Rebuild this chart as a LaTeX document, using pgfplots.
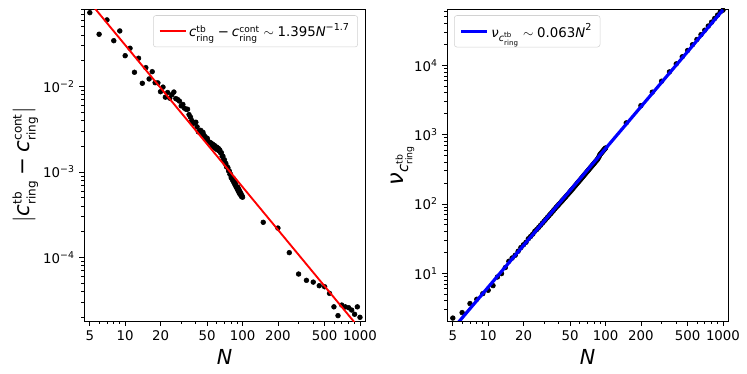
\documentclass[border=0pt]{standalone}
\usepackage{fontspec}
\setmainfont{DejaVu Sans}
\usepackage{amsmath}
\usepackage{pgfplots}
\pgfplotsset{compat=1.18}

\newcommand{\ci}{\text{\itshape c}}
\newcommand{\Ni}{\text{\itshape N}}
\newcommand{\scr}[2]{\text{\fontsize{#1}{#1}\selectfont #2}}

\begin{document}
\begin{tikzpicture}
\path[use as bounding box] (0,0) rectangle (560.25pt,280.5pt);

% left panel
\begin{axis}[
    xmode=log, ymode=log, scale only axis,
    width=210.75pt, height=234pt,
    at={(63pt,39.75pt)}, anchor=south west,
    xmin=4.46, xmax=1104,
    ymin=1.81e-5, ymax=0.0805,
    clip marker paths=true,
    axis line style={line width=0.6pt},
    tick align=outside, xtick pos=bottom, ytick pos=left,
    major tick length=3.5pt, minor tick length=2pt,
    tick style={black, line width=0.6pt},
    xtick={5,10,20,50,100,200,500,1000},
    xticklabels={5,10,20,50,100,200,500,1000},
    minor xtick={6,7,8,9,30,40,60,70,80,90,300,400,600,700,800,900},
    ytick={1e-4,1e-3,1e-2},
    yticklabels={10\textsuperscript{−4},10\textsuperscript{−3},10\textsuperscript{−2}},
    minor ytick={2e-5,3e-5,4e-5,5e-5,6e-5,7e-5,8e-5,9e-5,2e-4,3e-4,4e-4,5e-4,6e-4,7e-4,8e-4,9e-4,
      2e-3,3e-3,4e-3,5e-3,6e-3,7e-3,8e-3,9e-3,2e-2,3e-2,4e-2,5e-2,6e-2,7e-2,8e-2},
    ticklabel style={font=\fontsize{10}{12}\selectfont},
    label style={font=\fontsize{15.5}{18}\selectfont},
    xlabel={$\Ni$},
    ylabel={\fontsize{16}{18}\selectfont${|}\ci^{\scr{9}{tb}}_{\scr{9}{ring}} \mathbin{\text{−}} \ci^{\scr{9}{cont}}_{\scr{9}{ring}}{|}$},
    ylabel shift=-3pt,
    legend style={at={(0.975,0.98)}, anchor=north east,
      font=\fontsize{10}{12}\selectfont, draw=gray!35, rounded corners=2pt,
      fill=white, inner xsep=4pt, inner ysep=4pt},
    legend image code/.code={\draw[#1] (0pt,0pt) -- (19.5pt,0pt);},
    legend cell align=left,
]
\addplot[only marks, mark=*, mark size=1.8pt, black, mark options={fill=black}, forget plot] coordinates {
(5,0.0730) (6,0.0408) (7,0.0600) (8,0.0343) (9,0.0446) (10,0.0229)
(11,0.0280) (12,0.01466) (13,0.0214) (14,0.01090) (15,0.0166) (16,0.01225)
(17,0.0149) (18,0.01107) (19,0.01101) (20,0.00869) (21,0.00983) (22,0.00750)
(23,0.00850) (24,0.00730) (25,0.00802) (26,0.00861) (27,0.00722) (28,0.00704)
(29,0.00675) (30,0.00593) (31,0.00617) (32,0.00557) (33,0.00542) (34,0.00542)
(35,0.00469) (36,0.00438) (37,0.00399) (38,0.00372) (39,0.00375) (40,0.00382)
(41,0.00337) (42,0.00295) (43,0.00300) (44,0.00307) (45,0.00282) (46,0.00291)
(47,0.00268) (48,0.00258) (49,0.00239) (50,0.00248) (51,0.00229) (52,0.00222)
(53,0.00220) (54,0.00218) (55,0.00202) (56,0.00210) (57,0.00195) (58,0.00203)
(59,0.00188) (60,0.00196) (61,0.00182) (62,0.00190) (63,0.00177) (64,0.00181)
(65,0.00168) (66,0.00168) (67,0.00153) (68,0.00153) (69,0.00139) (70,0.00139)
(71,0.00126) (72,0.00126) (73,0.00115) (74,0.00115) (75,0.00112) (76,0.00103)
(77,0.00103) (78,0.000941) (79,0.000943) (80,0.000856) (81,0.000864) (82,0.000808)
(83,0.000849) (84,0.000759) (85,0.000779) (86,0.000713) (87,0.000733) (88,0.000671)
(89,0.000674) (90,0.000632) (91,0.000665) (92,0.000595) (93,0.000626) (94,0.000562)
(95,0.000591) (96,0.000542) (97,0.000558) (98,0.000516) (99,0.000527) (100,0.000507)
(150,2.58e-4) (200,2.21e-4) (250,1.14e-4) (300,6.41e-5) (350,5.41e-5) (400,5.16e-5)
(450,4.68e-5) (500,4.55e-5) (550,3.81e-5) (600,2.65e-5) (650,2.09e-5) (700,2.78e-5)
(750,2.65e-5) (800,2.59e-5) (850,2.43e-5) (900,2.17e-5) (950,2.65e-5) (1000,2.00e-5)
};
\addplot[red, line width=1.4pt] coordinates {(5,0.09642) (1000,1.461e-5)};
\addlegendentry{$\ci^{\scr{6.8}{tb}}_{\scr{6.8}{ring}} \mathbin{\text{−}} \ci^{\scr{6.8}{cont}}_{\scr{6.8}{ring}} \sim \text{1.395}\Ni^{\scr{7.2}{−1.7}}$}
\end{axis}

% right panel
\begin{axis}[
    xmode=log, ymode=log, scale only axis,
    width=210.75pt, height=234pt,
    at={(335.25pt,39.75pt)}, anchor=south west,
    xmin=4.46, xmax=1104,
    ymin=2.05, ymax=64900,
    clip marker paths=true,
    axis line style={line width=0.6pt},
    tick align=outside, xtick pos=bottom, ytick pos=left,
    major tick length=3.5pt, minor tick length=2pt,
    tick style={black, line width=0.6pt},
    xtick={5,10,20,50,100,200,500,1000},
    xticklabels={5,10,20,50,100,200,500,1000},
    minor xtick={6,7,8,9,30,40,60,70,80,90,300,400,600,700,800,900},
    ytick={10,100,1000,10000},
    yticklabels={10\textsuperscript{1},10\textsuperscript{2},10\textsuperscript{3},10\textsuperscript{4}},
    minor ytick={3,4,5,6,7,8,9,20,30,40,50,60,70,80,90,200,300,400,500,600,700,800,900,
      2000,3000,4000,5000,6000,7000,8000,9000,20000,30000,40000,50000,60000},
    ticklabel style={font=\fontsize{10}{12}\selectfont},
    label style={font=\fontsize{15.5}{18}\selectfont},
    xlabel={$\Ni$},
    ylabel={\fontsize{17}{18}\selectfont$\text{\itshape ν}_{\scr{11}{\itshape c}^{\scr{7}{tb}}_{\scr{7}{ring}}}$},
    ylabel shift=-7pt,
    legend style={at={(0.025,0.98)}, anchor=north west,
      font=\fontsize{10}{12}\selectfont, draw=gray!35, rounded corners=2pt,
      fill=white, inner xsep=4pt, inner ysep=4pt},
    legend image code/.code={\draw[#1] (0pt,0pt) -- (19.5pt,0pt);},
    legend cell align=left,
]
\addplot[only marks, mark=*, mark size=1.8pt, black, mark options={fill=black}, forget plot] coordinates {
(5,2.26) (6,2.71) (7,3.66) (8,4.22) (9,5.09) (10,5.69) (11,6.64) (12,8.85)
(13,9.9) (14,12.1) (15,14.9) (16,16.6) (17,18.2) (18,20.8) (19,23.5) (20,25.8)
(21,28.0) (22,31.5) (23,34.0) (24,36.8) (25,40.5) (26,43.0) (27,46.2) (28,49.5)
(29,53.0) (30,56.5) (31,60.3) (32,64.0) (33,68.0) (34,72.0) (35,76.0) (36,80.5)
(37,85.0) (38,89.5) (39,94.0) (40,98.5) (41,103) (42,108) (43,113) (44,118)
(45,123) (46,128) (47,134) (48,139) (49,145) (50,151) (51,157) (52,163)
(53,169) (54,176) (55,182) (56,189) (57,196) (58,203) (59,210) (60,217)
(61,224) (62,232) (63,239) (64,247) (65,255) (66,263) (67,271) (68,279)
(69,287) (70,296) (71,304) (72,313) (73,322) (74,331) (75,340) (76,349)
(77,358) (78,368) (79,377) (80,387) (81,397) (82,407) (83,417) (84,427)
(85,437) (86,450) (87,465) (88,480) (89,505) (90,520) (91,532) (92,544)
(93,556) (94,568) (95,580) (96,592) (97,605) (98,617) (99,630) (100,642)
(150,1475) (200,2620) (250,4095) (300,5900) (350,8030) (400,10480)
(450,13270) (500,16380) (550,19820) (600,23590) (650,27680) (700,32100)
(750,36860) (800,41930) (850,47340) (900,53070) (950,59130) (1000,62500)
};
\addplot[blue, line width=2.4pt] coordinates {(5,1.575) (1000,63000)};
\addlegendentry{$\text{\itshape ν}_{\scr{7.2}{\itshape c}^{\scr{5.3}{tb}}_{\scr{5.3}{ring}}} \sim \text{0.063}\Ni^{\scr{7.2}{2}}$}
\end{axis}
\end{tikzpicture}
\end{document}
